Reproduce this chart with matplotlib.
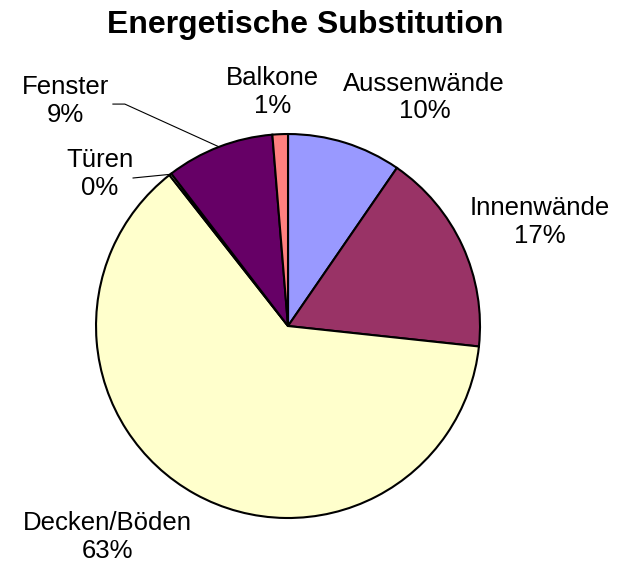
import numpy as np
import matplotlib.pyplot as plt

plt.rcParams['font.family'] = ['Liberation Sans', 'DejaVu Sans']

labels = ['Aussenwände', 'Innenwände', 'Decken/Böden', 'Türen', 'Fenster', 'Balkone']
values = [9.6, 17.1, 62.7, 0.2, 9.1, 1.3]
colors = ['#9999FF', '#993366', '#FFFFCC', '#FFFFCC', '#660066', '#FF8080']

fig = plt.figure(figsize=(6.17, 5.66), dpi=100)
ax = fig.add_axes([0.1556, 0.0848, 0.6224, 0.6784])

wedges, _ = ax.pie(values, colors=colors, startangle=90, counterclock=False,
                   wedgeprops=dict(edgecolor='black', linewidth=1.5))
ax.set_xlim(-1, 1)
ax.set_ylim(-1, 1)
ax.set_aspect('equal')

total = sum(values)
pcts = ['%d%%' % round(v / total * 100) for v in values]

# label centres (data units, radius = 1)
pos = {
    'Aussenwände': (0.71, 1.19),
    'Innenwände': (1.31, 0.54),
    'Decken/Böden': (-0.94, -1.10),
    'Türen': (-0.98, 0.79),
    'Fenster': (-1.16, 1.17),
    'Balkone': (-0.08, 1.22),
}
leaders = {'Fenster': (-0.85, 1.156), 'Türen': (-0.807, 0.771)}

for w, lab, p in zip(wedges, labels, pcts):
    x, y = pos[lab]
    ax.text(x, y, lab + '\n' + p, ha='center', va='center', fontsize=18.5,
            linespacing=1.2, clip_on=False)
    if lab in leaders:
        mid = np.deg2rad((w.theta1 + w.theta2) / 2)
        ex, ey = np.cos(mid), np.sin(mid)
        sx, sy = leaders[lab]
        if lab == 'Fenster':
            xs = [sx - 0.062, sx, ex]
            ys = [sy, sy, ey]
        else:
            xs = [sx, ex]
            ys = [sy, ey]
        ax.plot(xs, ys, color='black', linewidth=0.8, clip_on=False)

fig.text(0.494, 0.9417, 'Energetische Substitution', ha='center', va='baseline',
         fontsize=23, fontweight='bold')

fig.savefig('out.png', dpi=100)
